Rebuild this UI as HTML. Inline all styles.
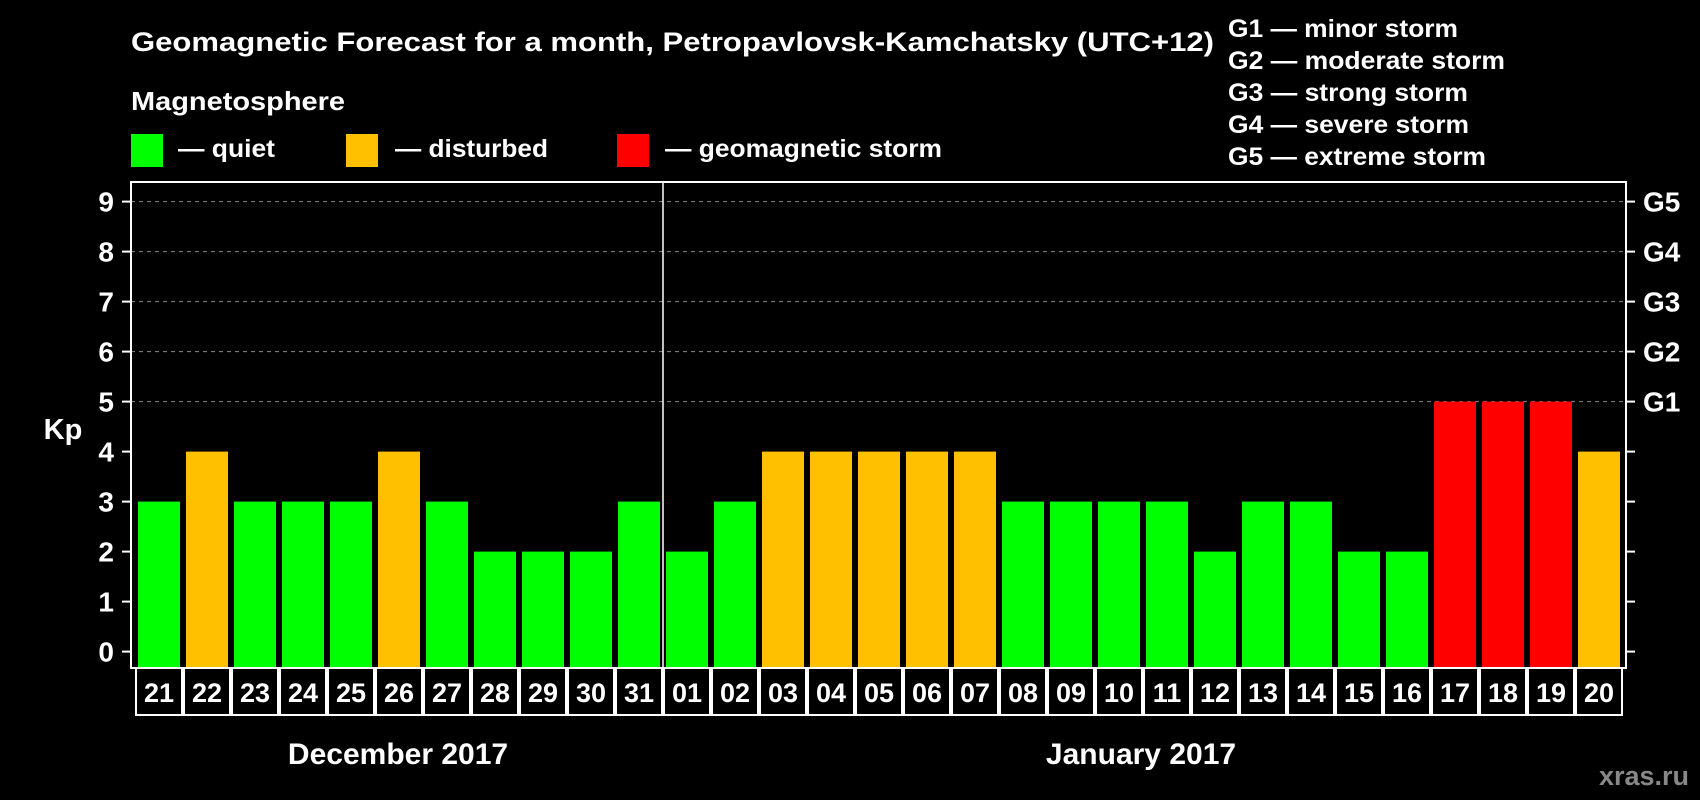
<!DOCTYPE html>
<html><head><meta charset="utf-8"><style>
html,body{margin:0;padding:0;background:#000;}
svg{display:block;font-family:"Liberation Sans",Arial,sans-serif;font-weight:bold;}
</style></head><body>
<svg id="chart" width="1700" height="800" viewBox="0 0 1700 800" xmlns="http://www.w3.org/2000/svg">
<rect width="1700" height="800" fill="#000"/>
<text x="131" y="51" font-size="27" fill="#fff" textLength="1083" lengthAdjust="spacingAndGlyphs">Geomagnetic Forecast for a month, Petropavlovsk-Kamchatsky (UTC+12)</text>
<text x="131" y="110" font-size="26" fill="#fff" textLength="214" lengthAdjust="spacingAndGlyphs">Magnetosphere</text>
<rect x="131" y="134" width="32" height="33" fill="#00ff00"/>
<text x="178" y="157" font-size="25" fill="#fff" textLength="97" lengthAdjust="spacingAndGlyphs">— quiet</text>
<rect x="346" y="134" width="32" height="33" fill="#ffc000"/>
<text x="395" y="157" font-size="25" fill="#fff" textLength="153" lengthAdjust="spacingAndGlyphs">— disturbed</text>
<rect x="617" y="134" width="32" height="33" fill="#ff0000"/>
<text x="665" y="157" font-size="25" fill="#fff" textLength="277" lengthAdjust="spacingAndGlyphs">— geomagnetic storm</text>
<g font-size="25" fill="#fff">
<text x="1228" y="37" textLength="230" lengthAdjust="spacingAndGlyphs">G1 — minor storm</text>
<text x="1228" y="69" textLength="277" lengthAdjust="spacingAndGlyphs">G2 — moderate storm</text>
<text x="1228" y="101" textLength="240" lengthAdjust="spacingAndGlyphs">G3 — strong storm</text>
<text x="1228" y="133" textLength="241" lengthAdjust="spacingAndGlyphs">G4 — severe storm</text>
<text x="1228" y="165" textLength="258" lengthAdjust="spacingAndGlyphs">G5 — extreme storm</text>
</g>
<text x="63" y="439" font-size="29" fill="#fff" text-anchor="middle">Kp</text>
<text x="398" y="764" font-size="30" fill="#fff" text-anchor="middle">December 2017</text>
<text x="1141" y="764" font-size="30" fill="#fff" text-anchor="middle">January 2017</text>
<text x="1689" y="785" font-size="27" fill="#888" text-anchor="end">xras.ru</text>
<g id="plot"></g>
</svg>
<script>
const days = ["21","22","23","24","25","26","27","28","29","30","31","01","02","03","04","05","06","07","08","09","10","11","12","13","14","15","16","17","18","19","20"];
const kpValues = [3,4,3,3,3,4,3,2,2,2,3,2,3,4,4,4,4,4,3,3,3,3,2,3,3,2,2,5,5,5,4];
const yTicks = [0,1,2,3,4,5,6,7,8,9];
const gLabels = ["","","","","","G1","G2","G3","G4","G5"];
const gridLevels = [5,6,7,8,9];

const NS = "http://www.w3.org/2000/svg";
const plot = document.getElementById("plot");
const frameL = 131, frameR = 1626, frameT = 182, frameB = 668;
const bandStart = 135, step = 48, barW = 42, barOff = 3;
const y0 = 651.6, unit = 50;
function yScale(v){ return y0 - v*unit; }
function xBand(i){ return bandStart + i*step; }
function colorFor(v){ return v >= 5 ? "#ff0000" : (v >= 4 ? "#ffc000" : "#00ff00"); }
function mk(tag, attrs){ const e = document.createElementNS(NS, tag); for (const k in attrs) e.setAttribute(k, attrs[k]); plot.appendChild(e); return e; }

gridLevels.forEach(function(v){
  const g = mk("line", {x1: frameL, x2: frameR, y1: yScale(v), y2: yScale(v), stroke: "#888", "stroke-width": 1, "stroke-dasharray": "4,4"});
  
  
});

kpValues.forEach(function(v, i){
  const r = mk("rect", {x: xBand(i) + barOff, y: yScale(v), width: barW, height: frameB - 1 - yScale(v), fill: colorFor(v)});
  
  
});

const frame = mk("rect", {x: frameL, y: frameT, width: frameR - frameL, height: frameB - frameT, fill: "none", stroke: "#fff", "stroke-width": 2});



const divider = mk("line", {x1: xBand(11), x2: xBand(11), y1: frameT, y2: frameB, stroke: "#fff", "stroke-width": 1.5});



yTicks.forEach(function(v){
  const y = yScale(v);
  const t1 = mk("line", {x1: frameL - 9, x2: frameL, y1: y, y2: y, stroke: "#fff", "stroke-width": 2});
  
  
  const t2 = mk("line", {x1: frameR, x2: frameR + 9, y1: y, y2: y, stroke: "#fff", "stroke-width": 2});
  
  
  const lb = mk("text", {x: 114, y: y + 10, "font-size": 28, fill: "#fff", "text-anchor": "end"});
  lb.textContent = String(v);
  
  
  if (gLabels[v]) {
    const gl = mk("text", {x: 1643, y: y + 10, "font-size": 28, fill: "#fff"});
    gl.textContent = gLabels[v];
    
    
  }
});

const boxT = 668, boxB = 715;
days.forEach(function(d, i){
  const x = xBand(i);
  const b = mk("rect", {x: x + 1, y: boxT, width: step - 2, height: boxB - boxT, fill: "#000", stroke: "#fff", "stroke-width": 2});
  
  
  const t = mk("text", {x: x + step/2, y: 702, "font-size": 27, fill: "#fff", "text-anchor": "middle"});
  t.textContent = d;
  
  
});
</script>
</body></html>
